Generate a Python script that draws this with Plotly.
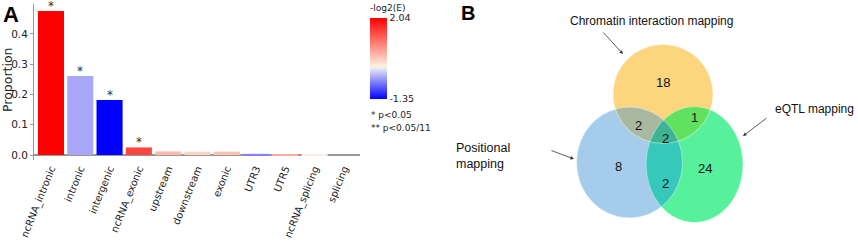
import numpy as np
import plotly.graph_objects as go

# ---------------- data ----------------
categories = ["ncRNA_intronic", "intronic", "intergenic", "ncRNA_exonic", "upstream",
              "downstream", "exonic", "UTR3", "UTR5", "ncRNA_splicing", "splicing"]
proportion = [0.476, 0.261, 0.182, 0.025, 0.012, 0.011, 0.011, 0.004, 0.003, 0.0008, 0.0]
neg_log2_e = [2.04, -0.43, -1.35, 1.46, 0.47, 0.27, 0.41, -0.63, 0.61, 0.0, 0.0]
significance = ["*", "*", "*", "*", "", "", "", "", "", "", ""]
y_ticks = [0.0, 0.1, 0.2, 0.3, 0.4]
cbar_ticks = [-1.35, 2.04]
cbar_ticktext = ["-1.35", "2.04"]
cbar_title = "-log2(E)"

venn_set_names = ["Chromatin interaction mapping", "Positional mapping", "eQTL mapping"]
venn_counts = {"C": 18, "P": 8, "E": 24, "CP": 2, "CE": 1, "PE": 2, "CPE": 2}

# ---------------- layout helpers ----------------
W, H = 858, 241

# Venn ellipses in pixel coords (cx, cy, rx, ry)
ellipses = {"C": (663, 94, 50, 49.5), "P": (629.5, 162.5, 53, 55.5), "E": (694.5, 164.5, 48.5, 58)}
region_colors = {"C": "#fdd57f", "P": "#a5cdeb", "E": "#57f09c",
                 "CP": "#a9b9a1", "CE": "#60e15f", "PE": "#35c8bb", "CPE": "#3fb492"}
count_pos = {"C": (663, 82), "P": (618, 166), "E": (705, 168), "CP": (638, 125),
             "CE": (694, 117), "PE": (665, 183), "CPE": (665, 138)}

colorscale = [[0.0, "#0000ff"], [0.385, "#eeeef4"], [0.41, "#fdeedc"], [1.0, "#ff0000"]]

fig = go.Figure()
fig.add_trace(go.Bar(
    x=categories, y=proportion,
    marker=dict(color=neg_log2_e, colorscale=colorscale, cmin=-1.35, cmax=2.04, line=dict(width=0),
                colorbar=dict(x=370 / W, xanchor="left", xpad=0, y=1 - 99 / H, yanchor="bottom", ypad=0,
                              thickness=17, thicknessmode="pixels", len=81 / H, lenmode="fraction",
                              outlinewidth=0, tickvals=cbar_ticks, ticktext=cbar_ticktext, ticks="",
                              tickfont=dict(family="DejaVu Sans", size=9.5, color="#222"))),
    xaxis="x", yaxis="y", showlegend=False, hoverinfo="x+y"))

annotations = []
for c, p, s in zip(categories, proportion, significance):
    if s:
        annotations.append(dict(x=c, y=p, xref="x", yref="y", text=s, showarrow=False, yanchor="bottom",
                                xanchor="center", yshift=-4,
                                font=dict(family="DejaVu Sans", size=12, color="#333")))

annotations += [
    dict(x=8 / W, y=1 - 80 / H, xref="paper", yref="paper", text="Proportion", textangle=-90,
         xanchor="center", yanchor="middle",
         showarrow=False, font=dict(family="DejaVu Sans", size=12.5, color="#222")),
    dict(x=1 / W, y=1 - 14 / H, xref="paper", yref="paper", text="<b>A</b>", xanchor="left",
         yanchor="middle", showarrow=False, font=dict(family="Liberation Sans, Arial", size=22, color="#000")),
    dict(x=459 / W, y=1 - 13 / H, xref="paper", yref="paper", text="<b>B</b>", xanchor="left",
         yanchor="middle", showarrow=False, font=dict(family="Liberation Sans, Arial", size=20, color="#000")),
    dict(x=368 / W, y=1 - 8 / H, xref="paper", yref="paper", text=cbar_title, xanchor="left",
         yanchor="middle", showarrow=False, font=dict(family="DejaVu Sans", size=9, color="#222")),
    dict(x=369 / W, y=1 - 115 / H, xref="paper", yref="paper", text="* p<0.05", xanchor="left",
         yanchor="middle", showarrow=False, font=dict(family="DejaVu Sans", size=9, color="#222")),
    dict(x=369 / W, y=1 - 128 / H, xref="paper", yref="paper", text="** p<0.05/11", xanchor="left",
         yanchor="middle", showarrow=False, font=dict(family="DejaVu Sans", size=9, color="#222")),
]

# ---------------- Venn ----------------
shapes = []
for k in ["P", "E", "C"]:
    cx, cy, rx, ry = ellipses[k]
    shapes.append(dict(type="circle", xref="x2", yref="y2", x0=cx - rx, x1=cx + rx, y0=cy - ry, y1=cy + ry,
                       fillcolor=region_colors[k], line=dict(width=0), layer="above"))


def inside(xs, ys, e):
    cx, cy, rx, ry = e
    return ((xs - cx) / rx) ** 2 + ((ys - cy) / ry) ** 2 <= 1 + 1e-9


def region_path(keys):
    t = np.linspace(0, 2 * np.pi, 900, endpoint=False)
    pts = []
    for k in keys:
        cx, cy, rx, ry = ellipses[k]
        xs = cx + rx * np.cos(t)
        ys = cy + ry * np.sin(t)
        m = np.ones_like(xs, dtype=bool)
        for o in keys:
            if o != k:
                m &= inside(xs, ys, ellipses[o])
        pts.append(np.column_stack([xs[m], ys[m]]))
    pts = np.vstack(pts)
    c = pts.mean(axis=0)
    order = np.argsort(np.arctan2(pts[:, 1] - c[1], pts[:, 0] - c[0]))
    pts = pts[order]
    return "M " + " L ".join(f"{x:.2f},{y:.2f}" for x, y in pts) + " Z"


for key in ["CP", "CE", "PE", "CPE"]:
    shapes.append(dict(type="path", xref="x2", yref="y2", path=region_path(list(key)),
                       fillcolor=region_colors[key], line=dict(width=0), layer="above"))
for k in ["P", "E", "C"]:
    cx, cy, rx, ry = ellipses[k]
    shapes.append(dict(type="circle", xref="x2", yref="y2", x0=cx - rx, x1=cx + rx, y0=cy - ry, y1=cy + ry,
                       fillcolor="rgba(0,0,0,0)", line=dict(width=0.8, color="rgba(255,255,255,0.55)"),
                       layer="above"))

label_font = dict(family="Liberation Sans, Arial", size=12, color="#111")
count_font = dict(family="Liberation Sans, Arial", size=13, color="#111")
for key, (x, y) in count_pos.items():
    annotations.append(dict(x=x, y=y, xref="x2", yref="y2", text=str(venn_counts[key]), showarrow=False,
                            xanchor="center", yanchor="middle", font=count_font))

annotations += [
    dict(x=651, y=21, xref="x2", yref="y2", text=venn_set_names[0], showarrow=False,
         xanchor="center", yanchor="middle", font=label_font),
    dict(x=454, y=156, xref="x2", yref="y2", text="Positional<br>mapping", showarrow=False, align="left",
         xanchor="left", yanchor="middle", font=dict(label_font, size=12.5)),
    dict(x=856, y=109, xref="x2", yref="y2", text=venn_set_names[2], showarrow=False, xanchor="right",
         yanchor="middle", font=label_font),
]
arrows = [((602, 31), (623, 54)), ((768, 117), (743, 136)), ((550, 150), (574, 159))]
for (tx, ty), (hx, hy) in arrows:
    annotations.append(dict(x=hx, y=hy, ax=tx, ay=ty, xref="x2", yref="y2", axref="x2", ayref="y2",
                            text="", showarrow=True, arrowhead=2, arrowsize=0.9, arrowwidth=0.8,
                            arrowcolor="#333"))

fig.update_layout(
    width=W, height=H, margin=dict(l=0, r=0, t=0, b=0, autoexpand=False),
    paper_bgcolor="white", plot_bgcolor="white", bargap=0.11,
    xaxis=dict(domain=[34 / W, 360 / W], range=[-0.58, 10.55], showline=False, ticks="", showgrid=False,
               zeroline=False, tickangle=-68, anchor="y", automargin=False,
               tickfont=dict(family="DejaVu Sans", size=10, color="#222")),
    yaxis=dict(domain=[1 - 160 / H, 1 - 4 / H], range=[-0.0165, 0.499], showline=True, linecolor="#999",
               linewidth=1, ticks="outside", ticklen=3, tickcolor="#999", tickvals=y_ticks, tickformat=".1f",
               showgrid=False, zeroline=True, zerolinecolor="#999", zerolinewidth=1.5, anchor="x",
               automargin=False, tickfont=dict(family="DejaVu Sans", size=10.5, color="#222")),
    xaxis2=dict(domain=[430 / W, 1], range=[430, 858], visible=False, anchor="y2", fixedrange=True,
                automargin=False),
    yaxis2=dict(domain=[0, 1], range=[241, 0], visible=False, anchor="x2", fixedrange=True,
                automargin=False),
    shapes=shapes, annotations=annotations,
)

fig.write_html("out.html", config={"displayModeBar": False},
               post_script="document.body.style.margin='0';")
